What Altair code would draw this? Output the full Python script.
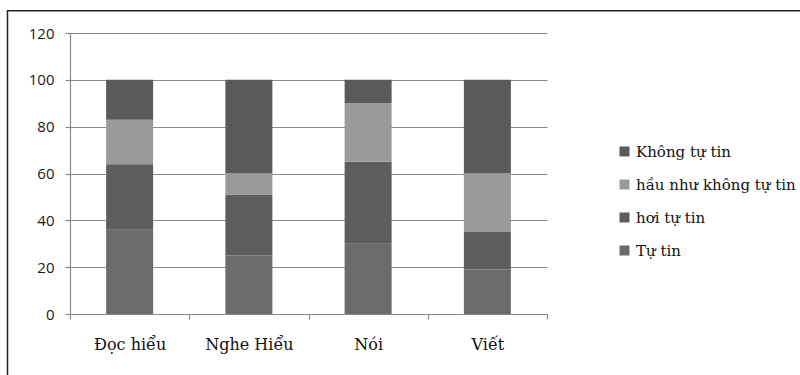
import altair as alt
import pandas as pd

# Kỹ năng and the share of learners (%) at each confidence level
skills = ["Đọc hiểu", "Nghe Hiểu", "Nói", "Viết"]
levels = ["Không tự tin", "hầu như không tự tin", "hơi tự tin", "Tự tin"]
tu_tin = [36, 25, 30, 19]
hoi_tu_tin = [28, 26, 35, 16]
hau_nhu_khong = [19, 9, 25, 25]
khong_tu_tin = [17, 40, 10, 40]

level_colors = ["#5a5a5a", "#9a9a9a", "#5d5d5d", "#6b6b6b"]
# stacking rank: Tự tin at the bottom, Không tự tin on top
stack_rank = {"Tự tin": 0, "hơi tự tin": 1, "hầu như không tự tin": 2, "Không tự tin": 3}

series = {
    "Tự tin": tu_tin,
    "hơi tự tin": hoi_tu_tin,
    "hầu như không tự tin": hau_nhu_khong,
    "Không tự tin": khong_tu_tin,
}
rows = []
for level, vals in series.items():
    for skill, v in zip(skills, vals):
        rows.append({"skill": skill, "level": level, "value": v, "rank": stack_rank[level]})
df = pd.DataFrame(rows)

GRID = "#8a8a8a"
SERIF = "DejaVu Serif"

bars = alt.Chart(df).mark_bar(size=47).encode(
    x=alt.X(
        "skill:N",
        sort=skills,
        scale=alt.Scale(paddingInner=0, paddingOuter=0),
        axis=alt.Axis(
            title=None,
            labelAngle=0,
            labelFont=SERIF,
            labelFontSize=16,
            labelColor="#111111",
            labelPadding=17,
            tickBand="extent",
            tickSize=5,
            tickColor=GRID,
            tickWidth=1.2,
            domainColor=GRID,
            domainWidth=1.2,
            grid=False,
        ),
    ),
    y=alt.Y(
        "value:Q",
        stack="zero",
        scale=alt.Scale(domain=[0, 120], nice=False),
        axis=alt.Axis(
            title=None,
            values=[0, 20, 40, 60, 80, 100, 120],
            labelFont="Open Sans",
            labelFontSize=15,
            labelColor="#1a1a1a",
            labelPadding=11,
            tickSize=5,
            tickColor=GRID,
            tickWidth=1.2,
            domainColor=GRID,
            domainWidth=1.2,
            grid=True,
            gridColor=GRID,
            gridWidth=1.2,
        ),
    ),
    color=alt.Color(
        "level:N",
        scale=alt.Scale(domain=levels, range=level_colors),
        legend=alt.Legend(
            title=None,
            orient="none",
            legendX=547,
            legendY=111,
            padding=0,
            symbolType="square",
            symbolSize=100,
            symbolStrokeWidth=0,
            labelFont=SERIF,
            labelFontSize=15,
            labelColor="#111111",
            labelOffset=4,
            rowPadding=17,
        ),
    ),
    order=alt.Order("rank:Q", sort="ascending"),
)

# outer frame of the figure (top and left edges fall inside the page)
frame = alt.Chart(pd.DataFrame({"k": [0]})).mark_rect(
    fill=None, stroke="#222222", strokeWidth=1.5
).encode(
    x=alt.value(-62.5),
    x2=alt.value(900),
    y=alt.value(-22.3),
    y2=alt.value(500),
)

chart = (
    alt.layer(frame, bars)
    .properties(
        width=477,
        height=281,
        autosize=alt.AutoSizeParams(type="none"),
        padding={"left": 70, "top": 33, "right": 253, "bottom": 61},
        background="white",
    )
    .configure_view(stroke=None)
)

chart.save("out.html", embed_options={"renderer": "svg", "actions": False})
